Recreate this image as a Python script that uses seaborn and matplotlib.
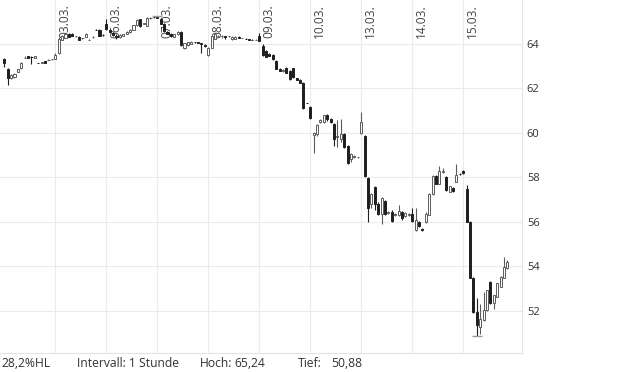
import numpy as np
import matplotlib
matplotlib.use("Agg")
import matplotlib.pyplot as plt
from matplotlib import transforms
import seaborn as sns

# ---------------- data ----------------
dates = ["03.03.", "06.03.", "07.03.", "08.03.", "09.03.", "10.03.", "13.03.", "14.03.", "15.03."]
candles_per_day = 15
change_label = "28,2%HL"
interval_label = "Intervall: 1 Stunde"
y_ticks = [52, 54, 56, 58, 60, 62, 64]

opens = [
    63.30, 62.85, 62.47, 62.50, 62.75, 62.90, 63.37, 63.45, 63.42, 63.37, 63.15, 63.16, 63.23, 63.28, 63.30,
    63.32, 63.60, 64.18, 64.27, 64.45, 64.45, 64.33, 64.31, 64.25, 64.31, 64.18, 64.30, 64.63, 64.63, 64.40,
    64.91, 64.60, 64.50, 64.36, 64.30, 64.35, 64.44, 64.52, 64.63, 64.84, 65.10, 64.90, 64.81, 65.15, 65.21,
    65.20, 65.10, 64.89, 64.55, 64.45, 64.32, 64.43, 64.54, 63.80, 63.95, 64.00, 64.08, 64.06, 64.03, 63.95,
    63.50, 63.82, 64.22, 64.34, 64.33, 64.34, 64.33, 64.20, 64.22, 64.32, 64.26, 64.22, 64.20, 64.19, 64.18,
    64.36, 63.90, 63.68, 63.55, 63.50, 63.25, 62.88, 62.80, 62.92, 62.80, 62.90, 62.46, 62.37, 62.25, 61.34,
    61.15, 59.90, 59.94, 60.48, 60.48, 60.80, 60.60, 60.40, 59.80, 59.70, 59.93, 59.40, 58.80, 58.92, 58.90,
    60.00, 59.85, 57.95, 56.78, 57.55, 56.82, 56.37, 56.95, 56.40, 56.46, 56.30, 56.30, 56.46, 56.25, 56.30,
    56.37, 55.65, 56.00, 55.67, 56.00, 56.32, 57.23, 58.04, 57.72, 58.25, 58.03, 57.35, 57.50, 57.80, 58.15,
    58.30, 57.46, 56.00, 53.46, 51.95, 51.28, 51.58, 52.03, 53.30, 52.33, 52.63, 53.08, 53.48, 53.91,
]
highs = [
    63.35, 62.90, 62.65, 62.70, 62.88, 63.18, 63.45, 63.47, 63.45, 63.47, 63.16, 63.18, 63.25, 63.30, 63.32,
    63.60, 64.30, 64.38, 64.48, 64.47, 64.47, 64.36, 64.33, 64.28, 64.47, 64.20, 64.34, 64.65, 64.66, 64.45,
    65.13, 64.65, 64.55, 64.42, 64.42, 64.46, 64.56, 64.66, 64.86, 65.10, 65.12, 64.95, 65.20, 65.20, 65.23,
    65.24, 65.15, 64.92, 64.58, 64.50, 64.46, 64.56, 64.58, 64.05, 64.10, 64.12, 64.10, 64.08, 64.05, 63.97,
    63.85, 64.40, 64.48, 64.38, 64.40, 64.36, 64.35, 64.33, 64.34, 64.35, 64.28, 64.24, 64.22, 64.20, 64.20,
    64.47, 64.00, 63.72, 63.58, 63.52, 63.28, 62.92, 62.85, 62.95, 62.82, 62.92, 62.48, 62.40, 62.28, 61.36,
    61.20, 60.05, 60.40, 60.60, 60.82, 60.85, 60.65, 60.45, 60.57, 60.60, 60.00, 59.45, 59.10, 59.00, 58.92,
    60.93, 59.90, 58.00, 57.30, 57.60, 56.90, 57.10, 57.00, 56.50, 56.55, 56.40, 56.75, 56.50, 56.45, 56.38,
    56.60, 56.60, 56.05, 55.70, 56.45, 57.30, 58.10, 58.10, 58.50, 58.40, 58.05, 57.62, 57.55, 58.58, 58.20,
    58.32, 57.65, 56.02, 53.50, 52.56, 52.30, 52.85, 52.95, 53.35, 52.72, 53.25, 53.55, 54.43, 54.30,
]
lows = [
    62.95, 62.15, 62.40, 62.45, 62.72, 62.88, 63.35, 63.35, 63.10, 63.35, 63.12, 63.14, 63.12, 63.26, 63.28,
    63.30, 63.55, 64.15, 64.25, 64.30, 64.35, 64.30, 64.16, 64.22, 64.29, 64.16, 64.28, 64.60, 64.34, 64.35,
    64.60, 64.50, 64.35, 64.20, 64.28, 64.33, 64.42, 64.50, 64.60, 64.82, 64.76, 64.88, 64.80, 65.10, 65.18,
    65.15, 64.87, 64.55, 64.42, 64.30, 64.30, 64.40, 63.92, 63.75, 63.92, 63.98, 64.05, 64.03, 63.60, 63.85,
    63.45, 63.80, 64.20, 64.30, 64.28, 64.20, 64.30, 64.15, 64.20, 64.24, 64.24, 64.20, 64.18, 64.17, 64.16,
    64.12, 63.45, 63.40, 63.45, 63.28, 62.85, 62.76, 62.75, 62.68, 62.38, 62.48, 62.36, 62.22, 61.08, 61.32,
    60.62, 59.10, 59.85, 60.45, 60.45, 60.55, 60.45, 59.40, 59.35, 59.60, 59.30, 58.60, 58.70, 58.85, 58.88,
    59.95, 58.00, 56.00, 56.60, 56.55, 56.30, 55.90, 56.30, 56.35, 56.00, 56.25, 56.25, 56.10, 56.20, 56.25,
    56.00, 55.60, 55.75, 55.60, 55.95, 56.30, 57.20, 57.70, 57.70, 58.20, 57.40, 57.33, 57.35, 57.78, 58.10,
    58.15, 56.00, 53.46, 51.90, 50.88, 50.96, 51.55, 52.00, 52.30, 52.06, 52.60, 53.05, 53.45, 53.88,
]
closes = [
    63.15, 62.45, 62.60, 62.65, 62.85, 63.15, 63.38, 63.37, 63.40, 63.45, 63.14, 63.17, 63.14, 63.29, 63.31,
    63.50, 64.22, 64.36, 64.45, 64.31, 64.37, 64.34, 64.18, 64.26, 64.45, 64.18, 64.32, 64.62, 64.36, 64.38,
    64.66, 64.55, 64.38, 64.30, 64.40, 64.44, 64.54, 64.63, 64.84, 65.05, 64.78, 64.92, 65.18, 65.16, 65.20,
    65.18, 64.89, 64.59, 64.45, 64.34, 64.43, 64.54, 63.95, 64.02, 64.07, 64.10, 64.07, 64.05, 64.00, 63.90,
    63.82, 64.36, 64.45, 64.35, 64.36, 64.32, 64.34, 64.30, 64.30, 64.26, 64.27, 64.21, 64.19, 64.18, 64.18,
    64.14, 63.48, 63.42, 63.47, 63.30, 62.88, 62.80, 62.82, 62.70, 62.40, 62.50, 62.38, 62.25, 61.10, 61.33,
    60.66, 60.00, 60.35, 60.57, 60.80, 60.60, 60.48, 59.70, 59.85, 59.95, 59.35, 58.63, 59.05, 58.95, 58.90,
    60.48, 58.04, 56.60, 57.27, 56.82, 56.37, 57.05, 56.37, 56.42, 56.05, 56.35, 56.50, 56.15, 56.40, 56.35,
    56.05, 56.10, 55.80, 55.65, 56.37, 57.23, 58.04, 57.72, 58.27, 58.30, 57.43, 57.60, 57.38, 58.10, 58.14,
    58.18, 56.00, 53.46, 51.95, 51.36, 51.61, 52.03, 52.93, 52.33, 52.70, 53.23, 53.53, 53.98, 54.18,
]

# ---------------- style ----------------
sns.set_style("white")
plt.rcParams["font.family"] = ["Open Sans", "DejaVu Sans"]

O = np.array(opens); H = np.array(highs); L = np.array(lows); C = np.array(closes)
x = np.arange(len(O))
up = C >= O

dark = "#1f1f1f"
hollow_edge = "#5c5c5c"
grid_c = "#ebebeb"
text_c = "#333333"

fig = plt.figure(figsize=(6.2, 3.72), dpi=100)
ax = fig.add_axes([0, 19 / 372, 522 / 620, 353 / 372])

# grid
day_starts = [candles_per_day * (k + 1) for k in range(len(dates))]
ax.set_xticks(day_starts)
ax.set_yticks(y_ticks)
ax.grid(True, color=grid_c, linewidth=0.8, zorder=0)
ax.set_axisbelow(True)

# wicks
wick_cols = np.where(up, hollow_edge, dark)
ax.vlines(x, L, H, colors=wick_cols, linewidth=0.8, zorder=2)

# bodies
heights = np.maximum(np.abs(C - O), 0.012)
bottoms = np.minimum(O, C)
faces = np.where(up, "white", dark)
edges = np.where(up, hollow_edge, dark)
ax.bar(x, heights, bottom=bottoms, width=0.62, color=faces, edgecolor=edges,
       linewidth=0.7, zorder=3)

# high / low markers
i_hi = int(np.argmax(H)); i_lo = int(np.argmin(L))
ax.hlines(H[i_hi], i_hi - 1.5, i_hi + 1.5, color="#9a9a9a", linewidth=1.0, zorder=4)
ax.hlines(L[i_lo], i_lo - 1.5, i_lo + 1.5, color="#9a9a9a", linewidth=1.0, zorder=4)

ax.set_xlim(-1.26, 152.3)
ax.set_ylim(50.1, 65.97)

# axes cosmetics
for s in ["top", "left"]:
    ax.spines[s].set_visible(False)
for s in ["right", "bottom"]:
    ax.spines[s].set_color("#e3e3e3")
    ax.spines[s].set_linewidth(0.8)
ax.yaxis.tick_right()
ax.tick_params(axis="y", length=0, pad=3.5, labelsize=8, labelcolor=text_c)
ax.tick_params(axis="x", length=0, labelbottom=False)
ax.set_yticklabels([str(t) for t in y_ticks])

# date labels
blend = transforms.blended_transform_factory(ax.transData, ax.transAxes)
off = blend + transforms.ScaledTranslation(3 / 100, 0, fig.dpi_scale_trans)
for gx, lab in zip(day_starts, dates):
    ax.text(gx, 0.893, lab, rotation=90, ha="left", va="bottom", transform=off,
            fontsize=8.6, color="#444444", zorder=1)

# bottom info line
def de(v):
    return f"{v:.2f}".replace(".", ",")

yb = 0.024
fs = 8.7
fig.text(1 / 620, yb, change_label, fontsize=fs, color=text_c, va="center", ha="left")
fig.text(77 / 620, yb, interval_label, fontsize=fs, color=text_c, va="center", ha="left")
fig.text(200 / 620, yb, "Hoch:", fontsize=fs, color=text_c, va="center", ha="left")
fig.text(234 / 620, yb, de(H.max()), fontsize=fs, color=text_c, va="center", ha="left")
fig.text(298 / 620, yb, "Tief:", fontsize=fs, color=text_c, va="center", ha="left")
fig.text(331 / 620, yb, de(L.min()), fontsize=fs, color=text_c, va="center", ha="left")

fig.savefig("out.png", dpi=100)
